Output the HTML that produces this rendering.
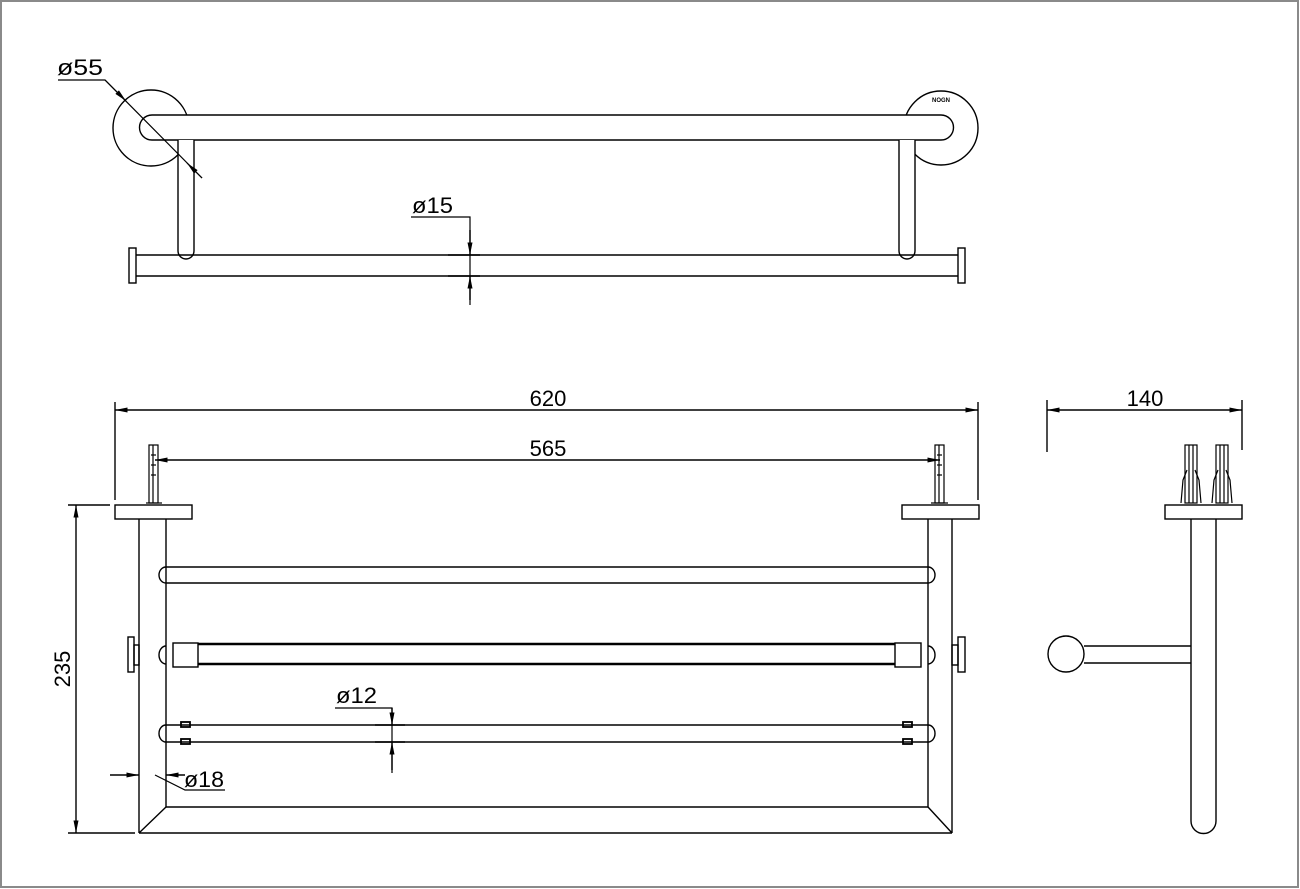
<!DOCTYPE html>
<html><head><meta charset="utf-8"><style>
html,body{margin:0;padding:0;background:#fff;}
svg{display:block;}
text{font-family:"Liberation Sans",sans-serif;fill:#000;}
</style></head><body>
<svg width="1300" height="889" viewBox="0 0 1300 889" xmlns="http://www.w3.org/2000/svg">
<defs>
<marker id="a" viewBox="0 0 10 10" refX="10" refY="5" markerWidth="10" markerHeight="5" markerUnits="userSpaceOnUse" orient="auto-start-reverse"><path d="M0,2 L10,5 L0,8 z" fill="#000"/></marker>
<marker id="b" viewBox="0 0 10 4" refX="10" refY="2" markerWidth="14" markerHeight="5" markerUnits="userSpaceOnUse" orient="auto-start-reverse"><path d="M0,0 L10,2 L0,4 z" fill="#000"/></marker>
</defs>
<rect x="1" y="1" width="1297" height="886" fill="none" stroke="#8a8a8a" stroke-width="2"/>
<g fill="none" stroke="#000" stroke-width="1.4">
<!-- TOP VIEW -->
<circle cx="151" cy="128" r="38"/>
<circle cx="941" cy="128" r="37"/>
<path d="M152,115 L941,115 A12.5,12.5 0 0 1 941,140 L152,140 A12.5,12.5 0 0 1 152,115 Z" fill="#fff"/>
<path d="M178,140 L178,251 A8,8 0 0 0 194,251 L194,140" fill="#fff"/>
<path d="M899,140 L899,251 A8,8 0 0 0 915,251 L915,140" fill="#fff"/>
<line x1="136" y1="255" x2="958" y2="255"/>
<line x1="136" y1="276" x2="958" y2="276"/>
<rect x="129" y="248" width="7" height="35"/>
<rect x="958" y="248" width="7" height="35"/>
<!-- ø55 -->
<polyline points="58,80 105,80 202,178" stroke-width="1.2"/>
<line x1="105" y1="80" x2="126" y2="101" marker-end="url(#b)" stroke-width="1.2"/>
<line x1="202" y1="178" x2="187" y2="163" marker-end="url(#b)" stroke-width="1.2"/>
<!-- ø15 -->
<polyline points="411,217 470,217 470,305" stroke-width="1.2"/>
<line x1="470" y1="230" x2="470" y2="255" marker-end="url(#b)"/>
<line x1="470" y1="300" x2="470" y2="276" marker-end="url(#b)"/>
<line x1="448" y1="255" x2="480" y2="255"/>
<line x1="448" y1="276" x2="480" y2="276"/>

<!-- FRONT VIEW -->
<line x1="115" y1="402" x2="115" y2="500"/>
<line x1="978" y1="402" x2="978" y2="500"/>
<line x1="115" y1="410" x2="978" y2="410" marker-start="url(#b)" marker-end="url(#b)"/>
<line x1="155" y1="460" x2="940" y2="460" marker-start="url(#b)" marker-end="url(#b)"/>
<rect x="115" y="505" width="77" height="14"/>
<rect x="902" y="505" width="77" height="14"/>
<!-- anchors -->
<g stroke-width="1.2">
<rect x="149" y="445" width="9" height="58"/><line x1="151" y1="455" x2="156" y2="455"/><line x1="151" y1="465" x2="156" y2="465"/><line x1="151" y1="475" x2="156" y2="475"/><line x1="153" y1="445" x2="153" y2="503"/><line x1="146" y1="503" x2="162" y2="503"/>
<rect x="935" y="445" width="9" height="58"/><line x1="937" y1="455" x2="942" y2="455"/><line x1="937" y1="465" x2="942" y2="465"/><line x1="937" y1="475" x2="942" y2="475"/><line x1="939" y1="445" x2="939" y2="503"/><line x1="931" y1="503" x2="948" y2="503"/>
</g>
<!-- posts -->
<line x1="139" y1="519" x2="139" y2="833"/>
<line x1="166" y1="519" x2="166" y2="807"/>
<line x1="928" y1="519" x2="928" y2="807"/>
<line x1="952" y1="519" x2="952" y2="833"/>
<line x1="139" y1="833" x2="952" y2="833"/>
<line x1="166" y1="807" x2="928" y2="807"/>
<line x1="139" y1="833" x2="166" y2="807"/>
<line x1="952" y1="833" x2="928" y2="807"/>
<!-- top bar -->
<line x1="166" y1="567" x2="928" y2="567"/>
<line x1="166" y1="583" x2="928" y2="583"/>
<path d="M166,567 A7,8 0 0 0 166,583"/>
<path d="M928,567 A7,8 0 0 1 928,583"/>
<!-- middle bar -->
<line x1="198" y1="644" x2="895" y2="644" stroke-width="2.4"/>
<line x1="198" y1="664" x2="895" y2="664" stroke-width="2.4"/>
<rect x="173" y="643" width="25" height="24"/>
<rect x="895" y="643" width="26" height="24"/>
<path d="M166,646 A7,9 0 0 0 166,664"/>
<path d="M928,646 A7,9 0 0 1 928,664"/>
<rect x="128" y="637" width="6" height="35"/><rect x="134" y="645" width="5" height="20"/>
<rect x="958" y="637" width="7" height="35"/><rect x="952" y="645" width="6" height="20"/>
<!-- lower bar -->
<line x1="166" y1="725" x2="928" y2="725"/>
<line x1="166" y1="742" x2="928" y2="742"/>
<path d="M166,725 A7,8.5 0 0 0 166,742"/>
<path d="M928,725 A7,8.5 0 0 1 928,742"/>
<rect x="181" y="722" width="9" height="5" stroke-width="1.8"/>
<rect x="181" y="739" width="9" height="5" stroke-width="1.8"/>
<rect x="903" y="722" width="9" height="5" stroke-width="1.8"/>
<rect x="903" y="739" width="9" height="5" stroke-width="1.8"/>
<!-- ø12 -->
<polyline points="335,708 392,708 392,773" stroke-width="1.2"/>
<line x1="392" y1="708" x2="392" y2="725" marker-end="url(#b)"/>
<line x1="392" y1="770" x2="392" y2="742" marker-end="url(#b)"/>
<line x1="375" y1="725" x2="405" y2="725"/>
<line x1="375" y1="742" x2="405" y2="742"/>
<!-- ø18 -->
<line x1="110" y1="775" x2="139" y2="775" marker-end="url(#b)"/>
<line x1="185" y1="775" x2="166" y2="775" marker-end="url(#b)"/>
<line x1="139" y1="765" x2="139" y2="790" stroke-width="1"/>
<line x1="166" y1="765" x2="166" y2="790" stroke-width="1"/>
<polyline points="155,775 185,790 225,790" stroke-width="1.2"/>
<!-- 235 -->
<line x1="68" y1="505" x2="110" y2="505"/>
<line x1="68" y1="833" x2="135" y2="833"/>
<line x1="76" y1="505" x2="76" y2="833" marker-start="url(#b)" marker-end="url(#b)"/>

<!-- SIDE VIEW -->
<line x1="1047" y1="400" x2="1047" y2="452"/>
<line x1="1242" y1="400" x2="1242" y2="450"/>
<line x1="1047" y1="410" x2="1242" y2="410" marker-start="url(#b)" marker-end="url(#b)"/>
<rect x="1165" y="505" width="77" height="14"/>
<path d="M1191,519 L1191,821 A12.5,12.5 0 0 0 1216,821 L1216,519"/>
<circle cx="1066" cy="654" r="18"/>
<line x1="1084" y1="646" x2="1191" y2="646"/>
<line x1="1084" y1="663" x2="1191" y2="663"/>
<g stroke-width="1.2">
<rect x="1185" y="445" width="12" height="58"/><line x1="1189" y1="445" x2="1189" y2="503"/><line x1="1193" y1="445" x2="1193" y2="503"/><path d="M1181,503 L1183,480 L1187,470 M1201,503 L1199,480 L1195,470"/>
<rect x="1216" y="445" width="12" height="58"/><line x1="1220" y1="445" x2="1220" y2="503"/><line x1="1224" y1="445" x2="1224" y2="503"/><path d="M1212,503 L1214,480 L1218,470 M1232,503 L1230,480 L1226,470"/>
</g>
</g>
<!-- text -->
<text x="57" y="75" font-size="22" textLength="46" lengthAdjust="spacingAndGlyphs">ø55</text>
<text x="412" y="213" font-size="22" textLength="41" lengthAdjust="spacingAndGlyphs">ø15</text>
<text x="941" y="102" font-size="6" text-anchor="middle" font-weight="bold">NOGN</text>
<text x="548" y="406" font-size="22" text-anchor="middle">620</text>
<text x="548" y="456" font-size="22" text-anchor="middle">565</text>
<text x="1145" y="406" font-size="22" text-anchor="middle">140</text>
<text x="336" y="703" font-size="22" textLength="41" lengthAdjust="spacingAndGlyphs">ø12</text>
<text x="184" y="787" font-size="22" textLength="40" lengthAdjust="spacingAndGlyphs">ø18</text>
<text transform="translate(70,669) rotate(-90)" font-size="22" text-anchor="middle">235</text>
</svg>
</body></html>
